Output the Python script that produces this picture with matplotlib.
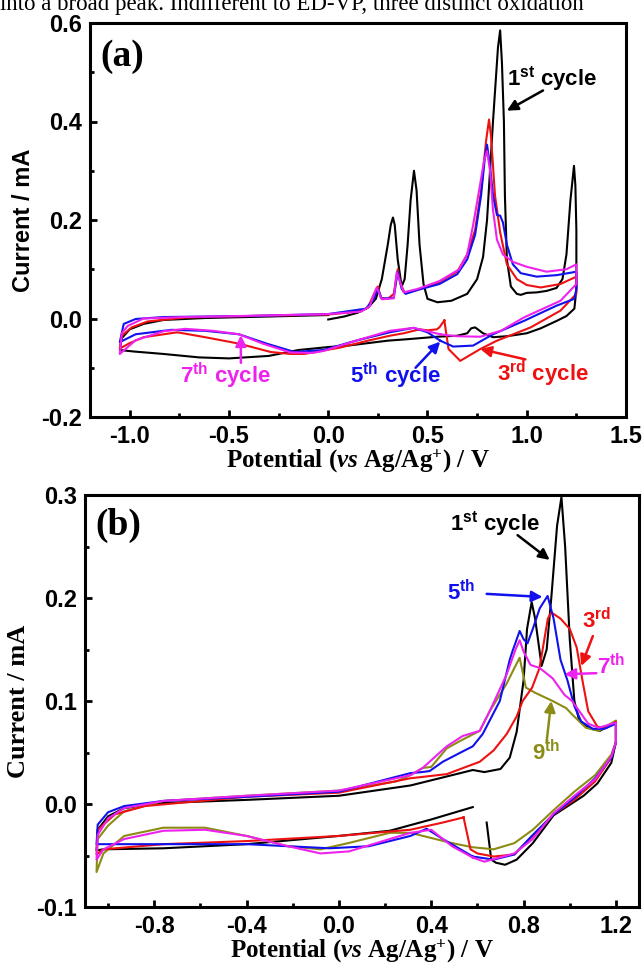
import matplotlib.pyplot as plt

plt.rcParams['mathtext.fontset'] = 'custom'
plt.rcParams['mathtext.rm'] = 'Liberation Serif:bold'
plt.rcParams['mathtext.it'] = 'Liberation Serif:italic:bold'
plt.rcParams['mathtext.bf'] = 'Liberation Serif:bold'

# ---- panel (a) cycles ----
a1_x = [0.0, 0.08, 0.15, 0.2, 0.24, 0.27, 0.30, 0.315, 0.326, 0.335, 0.35, 0.37, 0.385, 0.40, 0.415, 0.432, 0.445, 0.46, 0.48, 0.50,
        0.55, 0.62, 0.70, 0.75, 0.77, 0.78, 0.80, 0.83, 0.855, 0.866, 0.875, 0.885, 0.89, 0.90, 0.92, 0.95, 0.97, 1.0, 1.05, 1.10,
        1.15, 1.18, 1.20, 1.22, 1.238, 1.245, 1.25, 1.25, 1.24, 1.2, 1.15, 1.07, 1.0, 0.9, 0.83, 0.78, 0.74, 0.72, 0.70, 0.65,
        0.55, 0.4, 0.3, 0.1, 0.0, -0.15, -0.3, -0.5, -0.65, -0.83, -0.98, -1.05, -1.04, -1.0, -0.93, -0.83, -0.62, -0.3, 0.0]
a1_y = [-0.002, 0.004, 0.012, 0.022, 0.04, 0.08, 0.15, 0.19, 0.205, 0.19, 0.12, 0.065, 0.08, 0.15, 0.24, 0.30, 0.26, 0.15, 0.07, 0.04,
        0.033, 0.036, 0.05, 0.08, 0.11, 0.125, 0.20, 0.40, 0.55, 0.585, 0.52, 0.40, 0.25, 0.12, 0.065, 0.05, 0.048, 0.052, 0.053, 0.056,
        0.062, 0.08, 0.13, 0.24, 0.31, 0.27, 0.18, 0.06, 0.02, 0.005, -0.005, -0.02, -0.03, -0.036, -0.038, -0.03, -0.018, -0.02, -0.03, -0.035,
        -0.037, -0.042, -0.045, -0.055, -0.058, -0.064, -0.076, -0.081, -0.079, -0.072, -0.067, -0.064, -0.04, -0.022, -0.011, -0.003, 0.001, 0.004, 0.007]

a3_x = [0.585, 0.56, 0.547, 0.50, 0.46, 0.38, 0.31, 0.2, 0.06, -0.12, -0.19, -0.29, -0.45, -0.62, -0.76, -0.93, -1.0, -1.05,
        -1.04, -0.99, -0.91, -0.72, -0.4, 0.0, 0.15, 0.2, 0.225, 0.25, 0.265, 0.3, 0.33, 0.35, 0.365, 0.385, 0.45, 0.55, 0.65, 0.70,
        0.74, 0.77, 0.795, 0.81, 0.82, 0.84, 0.866, 0.9, 0.95, 1.0, 1.07, 1.17, 1.25, 1.25, 1.17, 1.02, 0.85, 0.766, 0.665, 0.606, 0.585]
a3_y = [-0.004, -0.018, -0.022, -0.024, -0.022, -0.03, -0.035, -0.045, -0.059, -0.072, -0.072, -0.068, -0.051, -0.038, -0.028, -0.038, -0.05, -0.061,
        -0.035, -0.018, -0.006, 0.002, 0.005, 0.008, 0.014, 0.022, 0.045, 0.065, 0.042, 0.04, 0.05, 0.10, 0.07, 0.052, 0.058, 0.072, 0.095, 0.13,
        0.18, 0.26, 0.36, 0.404, 0.37, 0.25, 0.175, 0.11, 0.08, 0.068, 0.063, 0.07, 0.085, 0.05, 0.016, -0.018, -0.045, -0.062, -0.086, -0.062, -0.004]

a5_x = [0.564, 0.5, 0.43, 0.31, 0.14, -0.025, -0.17, -0.31, -0.45, -0.62, -0.79, -0.97, -1.05,
        -1.03, -0.97, -0.83, -0.41, 0.0, 0.19, 0.23, 0.25, 0.27, 0.33, 0.35, 0.37, 0.39, 0.45, 0.56, 0.65, 0.70, 0.74, 0.77, 0.79,
        0.80, 0.815, 0.83, 0.85, 0.866, 0.88, 0.9, 0.93, 0.97, 1.05, 1.15, 1.25, 1.25, 1.24, 1.15, 0.985, 0.83, 0.73, 0.63, 0.564]
a5_y = [-0.045, -0.028, -0.019, -0.028, -0.045, -0.064, -0.068, -0.051, -0.032, -0.025, -0.023, -0.032, -0.048,
        -0.011, -0.001, 0.003, 0.005, 0.009, 0.02, 0.04, 0.06, 0.04, 0.042, 0.095, 0.06, 0.05, 0.058, 0.07, 0.09, 0.12, 0.17, 0.25, 0.33,
        0.353, 0.31, 0.25, 0.21, 0.209, 0.195, 0.15, 0.11, 0.092, 0.085, 0.088, 0.095, 0.06, 0.04, 0.026, -0.005, -0.032, -0.055, -0.057, -0.045]

a7_x = [0.564, 0.43, 0.31, 0.14, -0.025, -0.08, -0.19, -0.33, -0.45, -0.58, -0.72, -0.83, -0.97, -1.05,
        -1.04, -1.01, -0.93, -0.72, -0.45, 0.0, 0.165, 0.21, 0.227, 0.244, 0.27, 0.33, 0.345, 0.38, 0.45, 0.56, 0.66, 0.70, 0.73,
        0.76, 0.785, 0.80, 0.815, 0.83, 0.85, 0.88, 0.93, 1.0, 1.1, 1.2, 1.25, 1.25, 1.17, 0.985, 0.87, 0.766, 0.648, 0.564]
a7_y = [-0.032, -0.019, -0.025, -0.045, -0.066, -0.07, -0.069, -0.051, -0.032, -0.025, -0.021, -0.026, -0.044, -0.072,
        -0.03, -0.015, 0.0, 0.003, 0.005, 0.009, 0.014, 0.025, 0.046, 0.063, 0.039, 0.041, 0.094, 0.053, 0.06, 0.076, 0.1, 0.13, 0.19,
        0.26, 0.32, 0.34, 0.30, 0.22, 0.16, 0.13, 0.115, 0.105, 0.095, 0.1, 0.11, 0.07, 0.036, 0.002, -0.025, -0.037, -0.036, -0.032]

# ---- panel (b) cycles ----
b1_x = [0.58, 0.4, 0.22, 0.0, -0.4, -0.76, -1.02, -1.05, -1.045, -1.0, -0.93, -0.76, -0.4, 0.0, 0.31, 0.49, 0.58, 0.63, 0.70,
        0.74, 0.77, 0.80, 0.815, 0.835, 0.85, 0.878, 0.90, 0.92, 0.945, 0.964, 0.98, 1.0, 1.02, 1.04, 1.08, 1.13, 1.17, 1.2,
        1.2, 1.18, 1.12, 1.06, 0.93, 0.84, 0.77, 0.72, 0.68, 0.66, 0.64]
b1_y = [-0.003, -0.015, -0.026, -0.031, -0.039, -0.043, -0.044, -0.045, -0.025, -0.012, -0.004, 0.001, 0.004, 0.008, 0.018, 0.028, 0.033, 0.031, 0.034,
        0.045, 0.07, 0.12, 0.17, 0.196, 0.18, 0.134, 0.15, 0.2, 0.27, 0.298, 0.25, 0.16, 0.1, 0.082, 0.074, 0.071, 0.076, 0.08,
        0.06, 0.04, 0.02, 0.008, -0.011, -0.038, -0.054, -0.059, -0.057, -0.054, -0.018]

b3_x = [0.54, 0.45, 0.31, 0.0, -0.4, -0.76, -1.02, -1.05, -1.045, -0.97, -0.84, -0.4, 0.0, 0.31, 0.35, 0.467, 0.61, 0.67, 0.727,
        0.77, 0.796, 0.837, 0.869, 0.89, 0.905, 0.92, 0.96, 1.0, 1.03, 1.055, 1.08, 1.12, 1.16, 1.2,
        1.2, 1.18, 1.11, 1.02, 0.93, 0.84, 0.76, 0.67, 0.6, 0.57, 0.54]
b3_y = [-0.013, -0.018, -0.025, -0.031, -0.036, -0.039, -0.044, -0.049, -0.025, -0.01, -0.002, 0.007, 0.011, 0.025, 0.026, 0.029, 0.041, 0.052, 0.068,
        0.085, 0.10, 0.113, 0.132, 0.16, 0.18, 0.186, 0.18, 0.17, 0.152, 0.12, 0.09, 0.075, 0.074, 0.08,
        0.06, 0.045, 0.022, 0.004, -0.01, -0.031, -0.049, -0.051, -0.048, -0.044, -0.013]

b5_x = [0.58, 0.45, 0.38, 0.31, 0.13, -0.04, -0.4, -0.76, -1.05, -1.045, -1.0, -0.93, -0.76, -0.4, 0.0, 0.31, 0.36, 0.393, 0.45,
        0.536, 0.58, 0.623, 0.697, 0.74, 0.753, 0.783, 0.80, 0.817, 0.84, 0.87, 0.904, 0.93, 0.96, 0.99, 1.02, 1.05, 1.1, 1.15, 1.2,
        1.2, 1.18, 1.11, 1.02, 0.93, 0.84, 0.76, 0.67, 0.58]
b5_y = [-0.051, -0.034, -0.024, -0.031, -0.041, -0.043, -0.039, -0.039, -0.039, -0.02, -0.008, -0.002, 0.003, 0.007, 0.012, 0.03, 0.031, 0.032, 0.041,
        0.051, 0.056, 0.068, 0.10, 0.14, 0.149, 0.168, 0.16, 0.156, 0.17, 0.19, 0.202, 0.18, 0.14, 0.12, 0.095, 0.08, 0.073, 0.073, 0.078,
        0.06, 0.045, 0.025, 0.006, -0.01, -0.03, -0.049, -0.054, -0.051]

b7_x = [0.58, 0.49, 0.4, 0.31, 0.22, 0.044, -0.08, -0.22, -0.4, -0.58, -0.76, -0.93, -1.02, -1.05,
        -1.045, -1.0, -0.93, -0.76, -0.4, 0.0, 0.31, 0.363, 0.467, 0.536, 0.61, 0.653, 0.727, 0.765, 0.783, 0.80, 0.83, 0.87,
        0.926, 0.977, 1.01, 1.08, 1.125, 1.2, 1.2, 1.18, 1.11, 1.02, 0.93, 0.84, 0.76, 0.63, 0.58]
b7_y = [-0.052, -0.041, -0.025, -0.028, -0.034, -0.046, -0.048, -0.041, -0.031, -0.025, -0.026, -0.034, -0.044, -0.054,
        -0.03, -0.014, -0.004, 0.003, 0.008, 0.013, 0.028, 0.035, 0.056, 0.066, 0.071, 0.09, 0.126, 0.15, 0.159, 0.148, 0.135, 0.132,
        0.122, 0.106, 0.1, 0.078, 0.074, 0.079, 0.06, 0.046, 0.024, 0.008, -0.009, -0.034, -0.048, -0.056, -0.052]

b9_x = [0.49, 0.31, 0.22, 0.04, -0.08, -0.22, -0.4, -0.58, -0.76, -0.93, -1.02, -1.05,
        -1.045, -1.0, -0.93, -0.76, -0.4, 0.0, 0.25, 0.31, 0.363, 0.4, 0.467, 0.523, 0.61, 0.653, 0.727, 0.76, 0.783, 0.81,
        0.85, 0.926, 0.985, 1.01, 1.07, 1.125, 1.2, 1.2, 1.18, 1.11, 1.02, 0.93, 0.84, 0.76, 0.67, 0.58, 0.49]
b9_y = [-0.038, -0.028, -0.028, -0.038, -0.044, -0.041, -0.031, -0.023, -0.023, -0.031, -0.048, -0.066,
        -0.034, -0.021, -0.007, 0.003, 0.008, 0.013, 0.022, 0.028, 0.035, 0.036, 0.054, 0.061, 0.071, 0.09, 0.117, 0.132, 0.142, 0.113,
        0.108, 0.1, 0.093, 0.087, 0.074, 0.071, 0.081, 0.06, 0.048, 0.028, 0.012, -0.006, -0.025, -0.038, -0.044, -0.042, -0.038]

BLACK, RED, BLUE, MAG, OLIVE = 'black', '#ee1111', '#1111ee', '#ee22ee', '#8c8c14'

fig = plt.figure(figsize=(6.44, 9.68), dpi=100)
# line of body text from the page, cut by the crop at the top
fig.text(0.0, 1 - 10 / 968, 'into a broad peak. Indifferent to ED-VP, three distinct oxidation',
         family='Liberation Serif', fontsize=16.5, va='baseline', ha='left')

ax1 = fig.add_axes([90 / 644, 1 - 417 / 968, 536 / 644, 394 / 968])
ax2 = fig.add_axes([85 / 644, 1 - 907 / 968, 554 / 644, 412 / 968])

lw = 1.5
ax1.plot(a1_x, a1_y, color=BLACK, lw=lw)
ax1.plot(a3_x, a3_y, color=RED, lw=lw)
ax1.plot(a5_x, a5_y, color=BLUE, lw=lw)
ax1.plot(a7_x, a7_y, color=MAG, lw=lw)

ax2.plot(b1_x, b1_y, color=BLACK, lw=lw)
ax2.plot(b9_x, b9_y, color=OLIVE, lw=lw)
ax2.plot(b3_x, b3_y, color=RED, lw=lw)
ax2.plot(b5_x, b5_y, color=BLUE, lw=lw)
ax2.plot(b7_x, b7_y, color=MAG, lw=lw)

ax1.set_xlim(-1.2, 1.5)
ax1.set_ylim(-0.2, 0.6)
ax1.set_xticks([-1.0, -0.5, 0.0, 0.5, 1.0, 1.5])
ax1.set_xticks([-0.75, -0.25, 0.25, 0.75, 1.25], minor=True)
ax1.set_yticks([-0.2, 0.0, 0.2, 0.4, 0.6])
ax1.set_yticks([-0.1, 0.1, 0.3, 0.5], minor=True)

ax2.set_xlim(-1.1, 1.3)
ax2.set_ylim(-0.1, 0.3)
ax2.set_xticks([-0.8, -0.4, 0.0, 0.4, 0.8, 1.2])
ax2.set_xticks([-1.0, -0.6, -0.2, 0.2, 0.6, 1.0], minor=True)
ax2.set_yticks([-0.1, 0.0, 0.1, 0.2, 0.3])
ax2.set_yticks([-0.05, 0.05, 0.15, 0.25], minor=True)

for ax in (ax1, ax2):
    for s in ax.spines.values():
        s.set_linewidth(2.2)
    ax.tick_params(which='both', direction='in', width=2, top=False, right=False)
    ax.tick_params(which='major', length=5, pad=6)
    ax.tick_params(which='minor', length=3)
    ax.xaxis.set_major_formatter(plt.FormatStrFormatter('%.1f'))
    ax.yaxis.set_major_formatter(plt.FormatStrFormatter('%.1f'))
    for lab in ax.get_xticklabels() + ax.get_yticklabels():
        lab.set_fontfamily('Liberation Sans')
        lab.set_fontweight('bold')
        lab.set_fontsize(17)
    ax.set_xlabel(r'Potential ($\mathit{vs}$ Ag/Ag$^{+}$) / V', family='Liberation Serif',
                  fontweight='bold', fontsize=18, labelpad=-1)

ax1.set_ylabel('Current / mA', family='Liberation Sans', fontweight='bold', fontsize=17, labelpad=4)
ax2.set_ylabel('Current / mA', family='Liberation Serif', fontweight='bold', fontsize=19, labelpad=4)

ax1.text(0.019, 0.916, '(a)', transform=ax1.transAxes, family='Liberation Serif',
         fontweight='bold', fontsize=27, ha='left', va='center')
ax2.text(0.018, 0.927, '(b)', transform=ax2.transAxes, family='Liberation Serif',
         fontweight='bold', fontsize=27, ha='left', va='center')


def label(ax, s, sup, rest, xy, color, **kw):
    txt = s + r'$^{\mathregular{' + sup + '}}$' + rest
    ax.text(xy[0], xy[1], txt, color=color, family='Liberation Sans', fontweight='bold',
            fontsize=16, math_fontfamily='dejavusans', **kw)


def arrow(ax, tail, head, color):
    ax.annotate('', xy=head, xytext=tail,
                arrowprops=dict(arrowstyle='-|>', color=color, lw=1.8, mutation_scale=16, shrinkA=0, shrinkB=0))


# panel (a) annotations
label(ax1, '1', 'st', ' cycle', (0.90, 0.473), BLACK, ha='left', va='baseline')
arrow(ax1, (1.082, 0.463), (0.90, 0.422), BLACK)
label(ax1, '7', 'th', ' cycle', (-0.515, -0.117), MAG, ha='center', va='center')
arrow(ax1, (-0.44, -0.09), (-0.44, -0.034), MAG)
label(ax1, '5', 'th', ' cycle', (0.34, -0.117), BLUE, ha='center', va='center')
arrow(ax1, (0.44, -0.10), (0.564, -0.047), BLUE)
label(ax1, '3', 'rd', ' cycle', (1.08, -0.113), RED, ha='center', va='center')
arrow(ax1, (0.993, -0.083), (0.766, -0.062), RED)

# panel (b) annotations
label(ax2, '1', 'st', ' cycle', (0.48, 0.266), BLACK, ha='left', va='baseline')
arrow(ax2, (0.774, 0.261), (0.913, 0.237), BLACK)
label(ax2, '5', 'th', '', (0.47, 0.198), BLUE, ha='left', va='baseline')
arrow(ax2, (0.64, 0.204), (0.882, 0.201), BLUE)
label(ax2, '3', 'rd', '', (1.055, 0.171), RED, ha='left', va='baseline')
arrow(ax2, (1.10, 0.163), (1.05, 0.134), RED)
label(ax2, '7', 'th', '', (1.12, 0.126), MAG, ha='left', va='baseline')
arrow(ax2, (1.115, 0.127), (0.977, 0.126), MAG)
label(ax2, '9', 'th', '', (0.835, 0.043), OLIVE, ha='left', va='baseline')
arrow(ax2, (0.90, 0.061), (0.92, 0.10), OLIVE)

fig.savefig('out.png', dpi=100)
